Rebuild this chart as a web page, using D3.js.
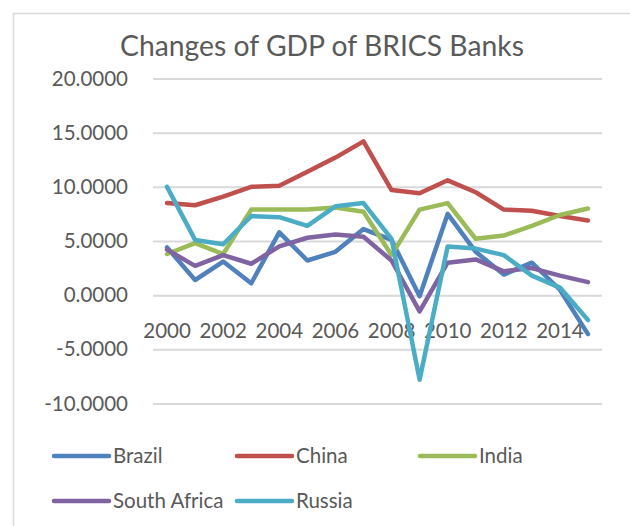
<!DOCTYPE html>
<html>
<head>
<meta charset="utf-8">
<script src="https://cdn.jsdelivr.net/npm/d3@7"></script>
<style>
  html, body { margin: 0; padding: 0; background: #fff; }
  svg { display: block; }
  text { font-family: Lato, "Open Sans", sans-serif; fill: #595959; }
</style>
</head>
<body>
<svg id="chart" width="630" height="526"></svg>
<script>
const years = [2000, 2001, 2002, 2003, 2004, 2005, 2006, 2007, 2008, 2009, 2010, 2011, 2012, 2013, 2014, 2015];
const yearLabels = [2000, 2002, 2004, 2006, 2008, 2010, 2012, 2014];
const yTicks = [-10, -5, 0, 5, 10, 15, 20];
const seriesNames = ["Brazil", "China", "India", "South Africa", "Russia"];
const brazil = [4.4, 1.4, 3.1, 1.1, 5.8, 3.2, 4.0, 6.1, 5.1, -0.1, 7.5, 4.0, 1.9, 3.0, 0.5, -3.6];
const china = [8.5, 8.3, 9.1, 10.0, 10.1, 11.4, 12.7, 14.2, 9.7, 9.4, 10.6, 9.5, 7.9, 7.8, 7.3, 6.9];
const india = [3.8, 4.8, 3.8, 7.9, 7.9, 7.9, 8.1, 7.7, 3.7, 7.9, 8.5, 5.2, 5.5, 6.4, 7.4, 8.0];
const southAfrica = [4.2, 2.7, 3.7, 2.9, 4.5, 5.3, 5.6, 5.4, 3.2, -1.5, 3.0, 3.3, 2.2, 2.5, 1.8, 1.2];
const russia = [10.0, 5.1, 4.7, 7.3, 7.2, 6.4, 8.2, 8.5, 5.2, -7.8, 4.5, 4.3, 3.7, 1.8, 0.7, -2.3];
const colors = ["#4F81BD", "#C0504D", "#9BBB59", "#8064A2", "#4BACC6"];

const seriesValues = [brazil, china, india, southAfrica, russia];
const series = seriesNames.map((name, i) => ({
  name, color: colors[i],
  values: years.map((y, j) => ({ year: y, value: seriesValues[i][j] }))
}));

const svg = d3.select("#chart");

// chart border (extends past viewport on right/bottom)
svg.append("rect")
  .attr("x", 13.5).attr("y", 13.5)
  .attr("width", 700).attr("height", 600)
  .attr("fill", "none").attr("stroke", "#d9d9d9").attr("stroke-width", 1.5);

const plot = { left: 153, right: 602, top: 78.5, bottom: 403.5 };

const x = d3.scaleBand().domain(years).range([plot.left, plot.right]);
const xc = d => x(d) + x.bandwidth() / 2;
const y = d3.scaleLinear().domain([-10, 20]).range([plot.bottom, plot.top]);

// title
svg.append("text")
  .attr("x", 322).attr("y", 56)
  .attr("text-anchor", "middle")
  .style("font-size", "28.3px")
  .text("Changes of GDP of BRICS Banks");

// gridlines + y labels
const fmt = d3.formatLocale({ decimal: ".", thousands: ",", grouping: [3], currency: ["", ""], minus: "-" }).format(".4f");
const yAxis = d3.axisLeft(y).tickValues(yTicks)
  .tickSize(-(plot.right - plot.left)).tickPadding(25)
  .tickFormat(fmt);
const gy = svg.append("g").attr("transform", `translate(${plot.left},0)`).call(yAxis);
gy.select(".domain").remove();
gy.selectAll(".tick line").attr("stroke", "#d9d9d9").attr("stroke-width", 2);
gy.selectAll(".tick text")
  .style("font-size", "20.5px").attr("fill", "#595959");

// x axis labels (below zero line, every 2 years)
const xAxis = d3.axisBottom(x).tickValues(yearLabels).tickSize(0).tickPadding(28);
const gx = svg.append("g").attr("transform", `translate(0,${y(0)})`).call(xAxis);
gx.select(".domain").remove();
gx.selectAll(".tick text").style("font-size", "20.5px").attr("fill", "#595959");

// lines
const line = d3.line().x(d => xc(d.year)).y(d => y(d.value));
svg.append("g").selectAll("path").data(series).join("path")
  .attr("d", d => line(d.values))
  .attr("fill", "none")
  .attr("stroke", d => d.color)
  .attr("stroke-width", 4.5)
  .attr("stroke-linejoin", "round")
  .attr("stroke-linecap", "round");

// legend
const legendX = [54, 237, 420];
const legendY = [456, 501];
const lg = svg.append("g").selectAll("g").data(series).join("g")
  .attr("transform", (d, i) => `translate(${legendX[i % 3]},${legendY[Math.floor(i / 3)]})`);
lg.append("line").attr("x1", 0).attr("x2", 55).attr("y1", 0).attr("y2", 0)
  .attr("stroke", d => d.color).attr("stroke-width", 4.5).attr("stroke-linecap", "round");
lg.append("text").attr("x", 59).attr("y", 0).attr("dy", "0.35em")
  .style("font-size", "20.5px").text(d => d.name);
</script>
</body>
</html>
